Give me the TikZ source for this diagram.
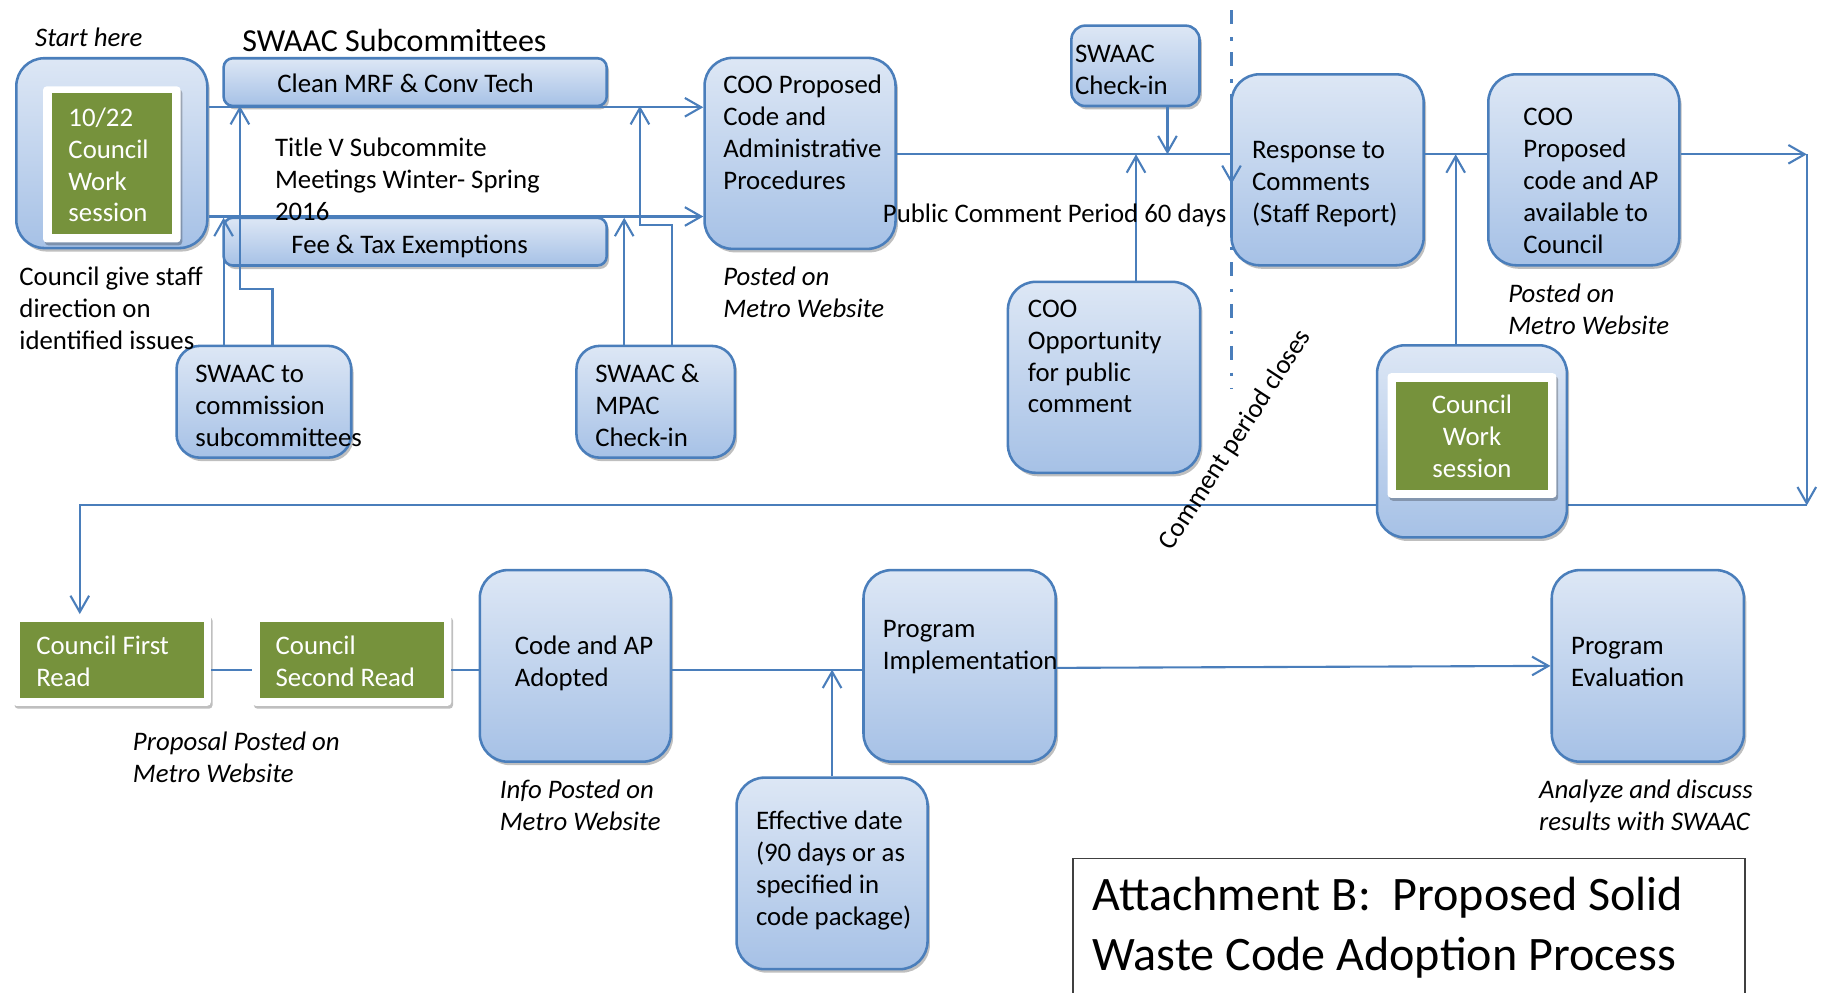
\documentclass[tikz,border=0pt]{standalone}
\usepackage{fontspec}
\setmainfont{Carlito}
\usetikzlibrary{arrows.meta,shadows}
\definecolor{bl}{RGB}{74,126,187}
\definecolor{btop}{RGB}{221,231,245}
\definecolor{bbot}{RGB}{166,193,230}
\definecolor{gr}{RGB}{118,146,60}
\newcommand{\bt}{\fontsize{23}{27.4}\selectfont}
\newcommand{\hd}{\fontsize{27.5}{33}\selectfont}
\newcommand{\ttl}{\fontsize{41.3}{51.5}\selectfont}
\begin{document}
\begin{tikzpicture}[x=1pt,y=-1pt,
  pbox/.style={draw=bl, line width=2.2pt, rounded corners=24pt, top color=btop, bottom color=bbot,
    drop shadow={shadow xshift=2pt,shadow yshift=-3pt,opacity=0.25,fill=black}, inner sep=0pt},
  frame/.style={fill=white, inner sep=0pt, rounded corners=3pt,
    drop shadow={shadow xshift=1.5pt,shadow yshift=-2.5pt,opacity=0.25,fill=black}},
  gbox/.style={fill=gr, inner sep=0pt},
  tbox/.style={draw=black!75, line width=1.5pt, inner sep=0pt},
  con/.style={draw=bl, line width=1.8pt},
  arr/.style={con, -{Straight Barb[length=14pt,width=16pt]}},
  txt/.style={anchor=north west, inner sep=0pt, align=left, font=\bt},
  itxt/.style={txt, font=\bt\itshape},
  wtxt/.style={txt, text=white},
  dashdot/.style={draw=bl, line width=2.8pt, dash pattern=on 12pt off 11pt on 3pt off 10pt}
]
\useasboundingbox (0,0) rectangle (1568,852);

% ---------- bottom row ----------
\node[frame, minimum width=170pt, minimum height=78.5pt] (first) at (96,566.8) {};
\node[gbox, minimum width=157.5pt, minimum height=65pt] (firstg) at (96.25,566.5) {};
\node[frame, minimum width=171pt, minimum height=78.5pt] (second) at (302,566.8) {};
\node[gbox, minimum width=158.5pt, minimum height=65pt] (secondg) at (302.25,566.5) {};
\node[pbox, minimum width=164pt, minimum height=164.5pt] (code) at (494,571.8) {};
\node[pbox, minimum width=164pt, minimum height=164.5pt] (eff) at (714.5,750) {};
\node[pbox, minimum width=165pt, minimum height=164.5pt] (impl) at (824,571.8) {};
\node[pbox, minimum width=165pt, minimum height=164.5pt] (eval) at (1415,571.8) {};
\node[tbox, minimum width=577pt, minimum height=140pt, anchor=north west] (title) at (920.5,736.5) {};

% ---------- return line (behind council box 2) ----------
\coordinate (c5) at (1551.5,132.5);
\coordinate (c6) at (1551.5,434);
\coordinate (c7) at (68.5,434);
\draw[arr] (c6) -- (c7) -- (c7 |- first.north);

% ---------- top row ----------
\node[pbox, minimum width=164pt, minimum height=163pt] (cws1) at (96,131.5) {};
\node[frame, minimum width=118pt, minimum height=134pt] (cws1f) at (96,141.2) {};
\node[gbox, minimum width=103pt, minimum height=121pt] (cws1g) at (96,140.5) {};
\node[pbox, rounded corners=8pt, minimum width=329pt, minimum height=41pt] (clean) at (356.5,70.5) {};
\node[pbox, rounded corners=8pt, minimum width=329pt, minimum height=41pt] (fee) at (356.5,207.5) {};
\node[pbox, rounded corners=20pt, minimum width=150pt, minimum height=96pt] (swc) at (226.6,345) {};
\node[pbox, rounded corners=20pt, minimum width=136pt, minimum height=96pt] (swm) at (563,345) {};
\node[pbox, minimum width=164pt, minimum height=164pt] (coo1) at (687,131.7) {};
\node[pbox, rounded corners=12pt, minimum width=110pt, minimum height=69pt] (swci) at (975,56.5) {};
\node[pbox, minimum width=165pt, minimum height=164pt] (cooop) at (948,324) {};
\node[pbox, minimum width=165pt, minimum height=164pt] (resp) at (1140,145.8) {};
\node[pbox, minimum width=164pt, minimum height=164pt] (coo2) at (1360,145.8) {};
\node[pbox, minimum width=163pt, minimum height=165pt] (cws2) at (1264,379) {};
\node[frame, minimum width=145pt, minimum height=107pt] (cws2f) at (1264,374) {};
\node[gbox, minimum width=130pt, minimum height=93pt] (cws2g) at (1264,374.5) {};

% ---------- connectors ----------
\draw[arr] (cws1.east |- clean.south) -- (coo1.west |- clean.south);
\draw[arr] (cws1.east |- fee.north) -- (coo1.west |- fee.north);
\coordinate (a1) at (192,187);
\coordinate (a2) at (206,91);
\draw[arr] (swc.north -| a1) -- (a1);
\draw[arr] ([xshift=7.4pt]swc.north) -- ++(0,-48) -| (a2);
\coordinate (b1) at (536,187);
\coordinate (b2) at (549.5,91);
\draw[arr] (swm.north -| b1) -- (b1);
\draw[arr] ([xshift=14pt]swm.north) -- ++(0,-103) -| (b2);

\coordinate (c1) at (1057.5,132.5);
\draw[arr] (coo1.east |- c1) -- (c1) -- ++(0,25.5);
\coordinate (c2) at (1002.5,132.5);
\draw[arr] (swci.south -| c2) -- (c2);
\coordinate (c3) at (975.5,132.5);
\draw[arr] (cooop.north -| c3) -- (c3);
\draw[con] (resp.east |- c1) -- (coo2.west |- c1);
\coordinate (c4) at (1250,132.5);
\draw[arr] (cws2.north -| c4) -- (c4);
\draw[arr] (coo2.east |- c5) -- (c5);
\draw[arr] (c5) -- (c6);

\coordinate (row) at (0,575);
\draw[con] (first.east |- row) -- (second.west |- row);
\draw[con] (second.east |- row) -- (code.west |- row);
\draw[con] (code.east |- row) -- (impl.west |- row);
\draw[arr] (eff.north) -- (eff.north |- row);
\draw[arr] ([yshift=-1.7pt]impl.east) -- (eval.west);

\coordinate (d1) at (1057.5,9);
\coordinate (d2) at (1057.5,334);
\draw[dashdot] (d1) -- (d2);

% ---------- texts ----------
\node[itxt] (tstart) at (30,20.3) {\strut Start here};
\node[txt, font=\hd] (tsub) at (208,20.5) {\strut SWAAC Subcommittees};
\node[txt] (tclean) at (238,60.3) {\strut Clean MRF \& Conv Tech};
\node[txt] (tfee) at (250,198.3) {\strut Fee \& Tax Exemptions};
\node[txt] (ttv) at (236,115.3) {\strut Title V Subcommite\\Meetings Winter- Spring\\2016};
\node[wtxt] (tcws1) at (58.6,89) {\strut 10/22\\Council\\Work\\session};
\node[txt] (tgive) at (16.5,225.9) {\strut Council give staff\\direction on\\identified issues};
\node[txt] (tswc) at (167.5,308.9) {\strut SWAAC to\\commission\\subcommittees};
\node[txt] (tswm) at (511,308.9) {\strut SWAAC \&\\MPAC\\Check-in};
\node[txt] (tcoo1) at (621,61.3) {\strut COO Proposed\\Code and\\Administrative\\Procedures};
\node[itxt] (tpost1) at (621,225.9) {\strut Posted on\\Metro Website};
\node[txt] (tpublic) at (758,171.3) {\strut Public Comment Period 60 days};
\node[txt] (tswci) at (923,34.3) {\strut SWAAC\\Check-in};
\node[txt] (tcooop) at (882.5,253) {\strut COO\\Opportunity\\for public\\comment};
\node[font=\bt, inner sep=0pt, text height=15pt, text depth=0pt, rotate=57] (tclose) at (1060,377) {Comment period closes};
\node[txt] (tresp) at (1075,117.1) {\strut Response to\\Comments\\(Staff Report)};
\node[txt] (tcoo2) at (1308,88.3) {\strut COO\\Proposed\\code and AP\\available to\\Council};
\node[itxt] (tpost2) at (1295,240.3) {\strut Posted on\\Metro Website};
\node[wtxt, anchor=north, align=center] (tcws2) at (1264,336.1) {\strut Council\\Work\\session};
\node[wtxt] (tfirst) at (31,542.3) {\strut Council First\\Read};
\node[wtxt] (tsecond) at (236.5,542.3) {\strut Council\\Second Read};
\node[txt] (tcode) at (442,542.3) {\strut Code and AP\\Adopted};
\node[itxt] (tprop) at (114,625.3) {\strut Proposal Posted on\\Metro Website};
\node[itxt] (tinfo) at (429,666.1) {\strut Info Posted on\\Metro Website};
\node[txt] (teff) at (649,693.3) {\strut Effective date\\(90 days or as\\specified in\\code package)};
\node[txt] (timpl) at (758,528.3) {\strut Program\\Implementation};
\node[txt] (teval) at (1349,542.3) {\strut Program\\Evaluation};
\node[itxt] (tanal) at (1321.5,666.1) {\strut Analyze and discuss\\results with SWAAC};
\node[txt, font=\ttl] (ttitle) at (938,745.4) {\strut Attachment B:\ \ Proposed Solid\\Waste Code Adoption Process};
\end{tikzpicture}
\end{document}
